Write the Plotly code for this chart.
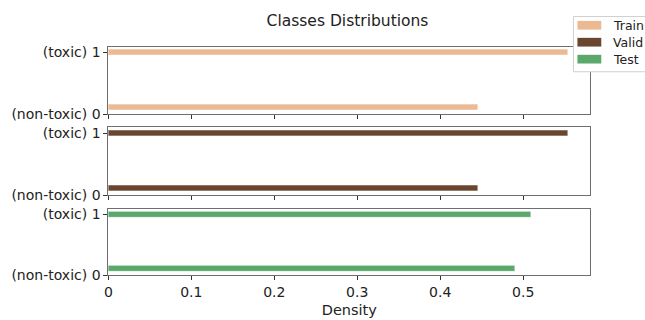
import plotly.graph_objects as go

# Class densities per split
classes = [0, 1]
class_labels = ["(non-toxic) 0", "(toxic) 1"]
splits = ["Train", "Valid", "Test"]
train_density = [0.446, 0.554]
valid_density = [0.446, 0.554]
test_density = [0.490, 0.510]
x_ticks = [0, 0.1, 0.2, 0.3, 0.4, 0.5]

colors = {"Train": "#EDB992", "Valid": "#6A4530", "Test": "#5BA86C"}
values = {"Train": train_density, "Valid": valid_density, "Test": test_density}

W, H = 645, 320
px = lambda v: v / W
py = lambda v: 1 - v / H

x_dom = [px(105), px(590)]
y_doms = [[py(116), py(46)], [py(199.5), py(129.5)], [py(282), py(213.5)]]

font = "DejaVu Sans"
txt = "#222222"
axis_col = "#6e6e6e"

fig = go.Figure()
for i, name in enumerate(splits):
    ax = "" if i == 0 else str(i + 1)
    fig.add_trace(go.Bar(
        x=values[name], y=classes, orientation="h",
        width=0.1, offset=[0.06, -0.05],
        marker=dict(color=colors[name], line=dict(color="rgba(255,255,255,0.55)", width=1)),
        name=name, showlegend=False,
        xaxis="x" + ax, yaxis="y" + ax,
    ))

layout = dict(
    width=W, height=H, margin=dict(l=0, r=0, t=0, b=0),
    paper_bgcolor="white", plot_bgcolor="white",
    font=dict(family=font, size=12, color=txt),
    title=dict(text="Classes Distributions", x=px(347.5), y=py(21), xanchor="center",
               yanchor="middle", font=dict(size=15.5, color=txt)),
    bargap=0,
)
for i in range(3):
    ax = "" if i == 0 else str(i + 1)
    last = i == 2
    layout["xaxis" + ax] = dict(
        domain=x_dom, range=[0, 0.581], anchor="y" + ax,
        tickvals=x_ticks, ticktext=[f"{t:g}" for t in x_ticks],
        showticklabels=last, ticks="outside", ticklen=4, tickcolor="#333",
        showline=True, linecolor=axis_col, linewidth=1, mirror=True,
        showgrid=False, zeroline=False, tickfont=dict(size=14),
        title=dict(text="Density", standoff=5, font=dict(size=14.5)) if last else None,
    )
    layout["yaxis" + ax] = dict(
        domain=y_doms[i], range=[0, 1.094], anchor="x" + ax,
        tickvals=classes, ticktext=class_labels,
        ticks="outside", ticklen=4, tickcolor="#333",
        showline=True, linecolor=axis_col, linewidth=1, mirror=True,
        showgrid=False, zeroline=False, tickfont=dict(size=14),
    )
fig.update_layout(**layout)

# Legend box with wide patches
shapes = [dict(type="rect", xref="paper", yref="paper",
               x0=px(573), x1=px(652), y0=py(72), y1=py(15),
               fillcolor="white", line=dict(color="#d0d0d0", width=1), layer="above")]
annots = []
for j, name in enumerate(splits):
    yc = 24 + j * 17.5
    shapes.append(dict(type="rect", xref="paper", yref="paper",
                       x0=px(577), x1=px(601), y0=py(yc + 4.5), y1=py(yc - 4.5),
                       fillcolor=colors[name], line=dict(width=0), layer="above"))
    annots.append(dict(text=name, xref="paper", yref="paper", x=px(611), y=py(yc),
                       xanchor="left", yanchor="middle", showarrow=False,
                       font=dict(size=12.5, color=txt)))
fig.update_layout(shapes=shapes, annotations=annots)

fig.write_html("out.html")
